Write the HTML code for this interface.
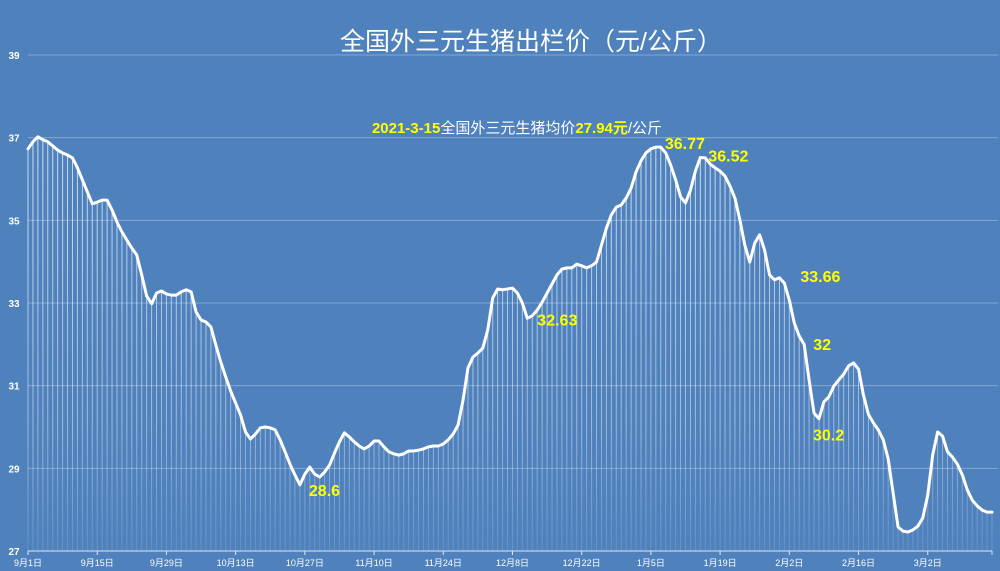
<!DOCTYPE html>
<html><head><meta charset="utf-8"><style>
html,body{margin:0;padding:0;background:#4f81bd;}
svg{display:block;font-family:"Liberation Sans","Noto Sans CJK SC",sans-serif;}
</style></head><body>
<svg id="chart" width="1000" height="571" viewBox="0 0 1000 571" xmlns="http://www.w3.org/2000/svg">
<defs>
<linearGradient id="dropGrad" gradientUnits="userSpaceOnUse" x1="0" y1="130" x2="0" y2="551">
<stop offset="0" stop-color="#ffffff" stop-opacity="0.75"/>
<stop offset="0.7" stop-color="#ffffff" stop-opacity="0.45"/>
<stop offset="1" stop-color="#ffffff" stop-opacity="0.12"/>
</linearGradient>
</defs>
<rect x="0" y="0" width="1000" height="571" fill="#4f81bd"/>
<text x="531" y="50" text-anchor="middle" fill="#ffffff" font-size="25">全国外三元生猪出栏价（元/公斤）</text>
<text x="517" y="133" text-anchor="middle" font-size="15"><tspan fill="#ffff00" font-weight="bold">2021-3-15</tspan><tspan fill="#ffffff">全国外三元生猪均价</tspan><tspan fill="#ffff00" font-weight="bold">27.94元</tspan><tspan fill="#ffffff">/公斤</tspan></text>
<g id="grid"></g><g id="drops"></g><g id="axes"></g><g id="series"></g><g id="labels"></g>
</svg>
<script>
const yTicks=[27,29,31,33,35,37,39];
const xTickLabels=["9月1日","9月15日","9月29日","10月13日","10月27日","11月10日","11月24日","12月8日","12月22日","1月5日","1月19日","2月2日","2月16日","3月2日"];
const xTickIndex=[0,14,28,42,56,70,84,98,112,126,140,154,168,182];
const prices=[36.73,36.90,37.02,36.95,36.90,36.80,36.70,36.63,36.58,36.51,36.27,35.98,35.69,35.40,35.44,35.49,35.49,35.25,34.96,34.72,
34.52,34.33,34.16,33.68,33.17,32.98,33.24,33.29,33.22,33.19,33.19,33.27,33.32,33.27,32.78,32.59,32.54,32.42,31.98,31.57,
31.21,30.87,30.58,30.29,29.88,29.71,29.83,29.98,30.00,29.98,29.93,29.69,29.40,29.10,28.84,28.60,28.86,29.03,28.86,28.79,
28.91,29.08,29.37,29.64,29.86,29.76,29.64,29.54,29.47,29.54,29.66,29.66,29.52,29.40,29.35,29.32,29.35,29.42,29.42,29.44,
29.47,29.52,29.54,29.54,29.59,29.69,29.83,30.05,30.65,31.43,31.69,31.79,31.91,32.35,33.12,33.34,33.32,33.34,33.36,33.24,
33.00,32.63,32.69,32.83,33.02,33.24,33.46,33.68,33.82,33.85,33.85,33.94,33.90,33.85,33.90,33.99,34.40,34.81,35.13,35.32,
35.37,35.54,35.78,36.17,36.44,36.63,36.73,36.77,36.77,36.63,36.34,35.98,35.57,35.42,35.73,36.19,36.52,36.51,36.36,36.27,
36.19,36.07,35.83,35.54,35.01,34.40,33.99,34.45,34.65,34.28,33.68,33.56,33.61,33.48,33.07,32.52,32.20,32.00,31.14,30.34,
30.20,30.61,30.73,30.99,31.14,31.28,31.48,31.55,31.40,30.77,30.31,30.10,29.93,29.69,29.23,28.40,27.58,27.48,27.46,27.51,
27.60,27.80,28.35,29.32,29.88,29.78,29.40,29.27,29.10,28.84,28.48,28.23,28.09,27.99,27.94,27.94];
const annoText=["28.6","32.63","36.77","36.52","33.66","32","30.2"];
const annoIndex=[55,101,127,136,153,156,160];
const annoDx=[9,10,9,8,16,14,-6];
const annoDy=[11,7,2,4,-1,14,22];

const NS="http://www.w3.org/2000/svg";
const X0=28,X1=992,Y0=551,Y1=55,VMIN=27,VMAX=39;
function xs(i){return X0+i*(X1-X0)/(prices.length-1);}
function ys(v){return Y0-(v-VMIN)/(VMAX-VMIN)*(Y0-Y1);}
function mk(tag,attrs,parent){const e=document.createElementNS(NS,tag);for(const k in attrs)e.setAttribute(k,attrs[k]);document.getElementById(parent).appendChild(e);return e;}

yTicks.forEach(t=>{
  if(t>VMIN){const g=mk('line',{x1:X0,x2:X1+6,y1:ys(t),y2:ys(t),stroke:'#ffffff','stroke-opacity':0.3,'stroke-width':1},'grid');
  
  }
  const l=mk('text',{x:14,y:ys(t)+4,'text-anchor':'middle',fill:'#ffffff','font-size':10,'font-weight':'bold'},'axes');
  l.textContent=t;
  
  
});
prices.forEach((v,i)=>{
  const d=mk('line',{x1:xs(i),x2:xs(i),y1:ys(v),y2:Y0,stroke:'url(#dropGrad)','stroke-width':1},'drops');
  
  
});
const ax=mk('line',{x1:X0,x2:X1,y1:Y0,y2:Y0,stroke:'#dfe8f3','stroke-width':1},'axes');


xTickIndex.forEach((idx,k)=>{
  const tm=mk('line',{x1:xs(idx),x2:xs(idx),y1:Y0,y2:Y0+4,stroke:'#dfe8f3','stroke-width':1},'axes');
  
  
  const tl=mk('text',{x:xs(idx),y:Y0+15,'text-anchor':'middle',fill:'#ffffff','font-size':9},'axes');
  tl.textContent=xTickLabels[k];
  
  
});
const endTick=mk('line',{x1:X1,x2:X1,y1:Y0,y2:Y0+4,stroke:'#dfe8f3','stroke-width':1},'axes');


const pts=prices.map((v,i)=>xs(i).toFixed(2)+','+ys(v).toFixed(2)).join(' ');
const pl=mk('polyline',{points:pts,fill:'none',stroke:'#ffffff','stroke-width':3,'stroke-linejoin':'round','stroke-linecap':'round'},'series');


annoIndex.forEach((idx,k)=>{
  const a=mk('text',{x:xs(idx)+annoDx[k],y:ys(prices[idx])+annoDy[k],fill:'#ffff00','font-size':16,'font-weight':'bold'},'labels');
  a.textContent=annoText[k];
  
  
});
</script>
</body></html>
